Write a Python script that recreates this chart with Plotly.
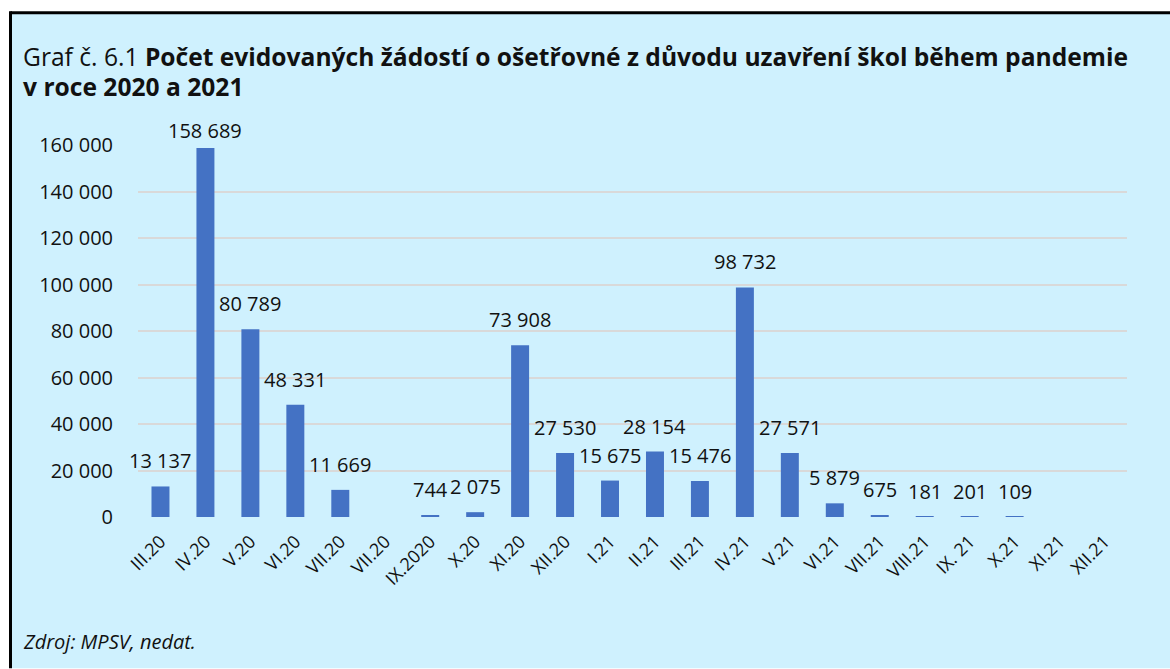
import plotly.graph_objects as go

categories = ["III.20", "IV.20", "V.20", "VI.20", "VII.20", "VII.20", "IX.2020", "X.20",
              "XI.20", "XII.20", "I.21", "II.21", "III.21", "IV.21", "V.21", "VI.21",
              "VII.21", "VIII.21", "IX. 21", "X.21", "XI.21", "XII.21"]
values = [13137, 158689, 80789, 48331, 11669, None, 744, 2075, 73908, 27530, 15675,
          28154, 15476, 98732, 27571, 5879, 675, 181, 201, 109, None, None]
y_ticks = [0, 20000, 40000, 60000, 80000, 100000, 120000, 140000, 160000]

title_plain = "Graf č. 6.1 "
title_bold_1 = "Počet evidovaných žádostí o ošetřovné z důvodu uzavření škol během pandemie"
title_bold_2 = "v roce 2020 a 2021"
source_text = "Zdroj: MPSV, nedat."

W, H = 1170, 669
L, R, T, B = 138, 1127, 144.5, 517.3
PW, PH = R - L, B - T
Y_MAX = 160000


def px_x(px):
    return (px - L) / PW


def px_y(py):
    return (B - py) / PH


FONT = "Open Sans"
BG = "#CFF1FE"
TXT = "#111111"
xs = list(range(len(categories)))

fig = go.Figure()
fig.add_trace(go.Bar(
    x=xs, y=values, width=0.4,
    marker=dict(color="#4472C4", line=dict(width=0)),
    hoverinfo="skip",
))

LABEL_GAP = 10
LABEL_H = 27
LABEL_TOP_LIMIT = 119  # labels are kept below this pixel row (as in the source chart)

annotations = []
for i, v in zip(xs, values):
    if v is None:
        continue
    bar_top_px = B - v / Y_MAX * PH
    shift = LABEL_GAP
    top_px = bar_top_px - shift - LABEL_H
    if top_px < LABEL_TOP_LIMIT:
        shift -= LABEL_TOP_LIMIT - top_px
    annotations.append(dict(
        x=i, y=v, xref="x", yref="y", text=f"{v:,}".replace(",", " "),
        showarrow=False, yanchor="bottom", yshift=shift,
        font=dict(family=FONT, size=20, color=TXT),
    ))

annotations.append(dict(
    x=px_x(21), y=px_y(56), xref="paper", yref="paper", xanchor="left", yanchor="middle",
    align="left", showarrow=False,
    text=f"{title_plain}<b>{title_bold_1}</b>",
    font=dict(family=FONT, size=24.6, color=TXT),
))
annotations.append(dict(
    x=px_x(21), y=px_y(86), xref="paper", yref="paper", xanchor="left", yanchor="middle",
    align="left", showarrow=False,
    text=f"<b>{title_bold_2}</b>",
    font=dict(family=FONT, size=24.6, color=TXT),
))
annotations.append(dict(
    x=px_x(21), y=px_y(642), xref="paper", yref="paper", xanchor="left", yanchor="middle",
    showarrow=False, text=f"<i>{source_text}</i>",
    font=dict(family=FONT, size=20, color=TXT),
))

shapes = [
    dict(type="rect", xref="paper", yref="paper", layer="below",
         x0=px_x(10.5), x1=px_x(W), y0=px_y(H), y1=px_y(12),
         fillcolor=BG, line=dict(width=0)),
    dict(type="line", xref="paper", yref="paper", layer="below",
         x0=px_x(10.5), x1=px_x(W), y0=px_y(12), y1=px_y(12),
         line=dict(color="black", width=3)),
    dict(type="line", xref="paper", yref="paper", layer="below",
         x0=px_x(10.5), x1=px_x(10.5), y0=px_y(H), y1=px_y(10.5),
         line=dict(color="black", width=3)),
]

fig.update_layout(
    width=W, height=H,
    margin=dict(l=L, r=W - R, t=T, b=H - B, pad=0),
    paper_bgcolor="white", plot_bgcolor="rgba(0,0,0,0)",
    showlegend=False, separators=", ",
    annotations=annotations, shapes=shapes,
    font=dict(family=FONT, color=TXT),
)
fig.update_xaxes(
    range=[-0.5, len(categories) - 0.5], tickmode="array", tickvals=xs, ticktext=categories,
    tickangle=-45, showgrid=False, zeroline=False, showline=False,
    ticks="outside", ticklen=6, tickcolor="rgba(0,0,0,0)",
    tickfont=dict(family=FONT, size=18, color=TXT),
)
fig.update_yaxes(
    range=[0, Y_MAX], tickmode="array", tickvals=y_ticks, tickformat=",d",
    showgrid=True, gridcolor="#D9D9D9", gridwidth=2, zeroline=False, showline=False,
    ticks="outside", ticklen=20, tickcolor="rgba(0,0,0,0)",
    tickfont=dict(family=FONT, size=20, color=TXT),
)

fig.write_html(
    "out.html",
    config={"displayModeBar": False},
    post_script="document.body.style.margin='0';document.body.style.overflow='hidden';",
)
